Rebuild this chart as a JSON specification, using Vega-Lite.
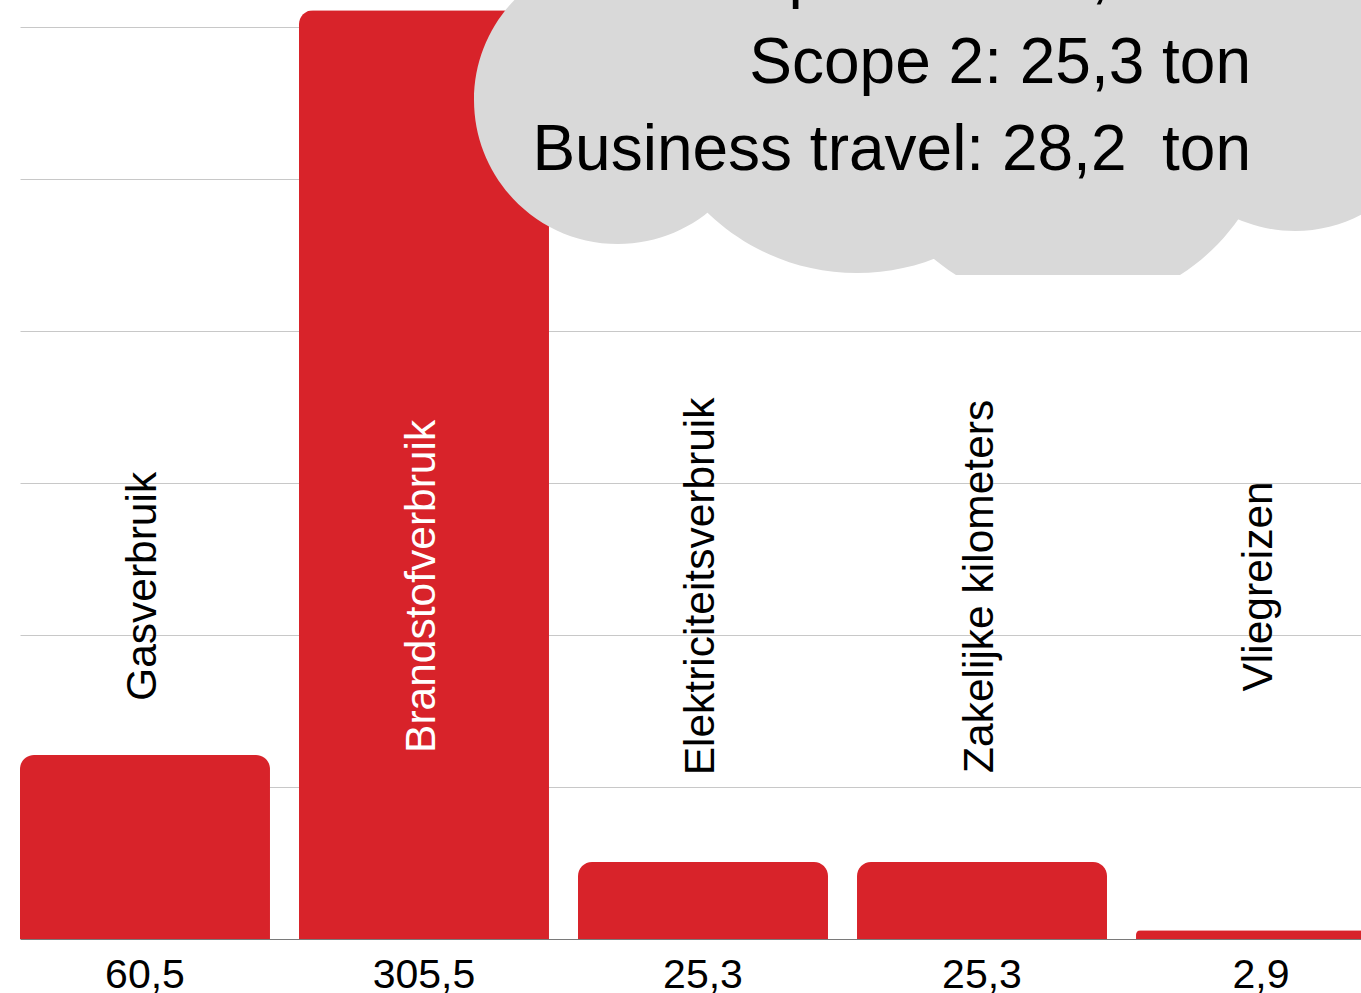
{
  "$schema": "https://vega.github.io/schema/vega-lite/v6.json",
  "width": 1341,
  "height": 939,
  "autosize": {"type": "none"},
  "padding": {"left": 20, "top": 0, "right": 0, "bottom": 54},
  "background": "white",
  "config": {
    "view": {"stroke": null},
    "font": "Liberation Sans",
    "locale": {"number": {"decimal": ",", "thousands": ".", "grouping": [3], "currency": ["€ ", ""]}}
  },
  "data": {
    "values": [
      {"category": "Gasverbruik", "value": 60.5},
      {"category": "Brandstofverbruik", "value": 305.5},
      {"category": "Elektriciteitsverbruik", "value": 25.3},
      {"category": "Zakelijke kilometers", "value": 25.3},
      {"category": "Vliegreizen", "value": 2.9}
    ]
  },
  "encoding": {
    "x": {
      "field": "category",
      "type": "nominal",
      "sort": null,
      "scale": {"range": [0, 1366], "paddingInner": 0.104, "paddingOuter": 0},
      "axis": {"title": null, "labels": false, "ticks": false, "domain": true, "domainColor": "#7a7a7a", "domainWidth": 1, "grid": false}
    }
  },
  "layer": [
    {
      "mark": {"type": "bar", "color": "#d8232a", "cornerRadiusTopLeft": 14, "cornerRadiusTopRight": 14},
      "encoding": {
        "y": {
          "field": "value",
          "type": "quantitative",
          "scale": {"domain": [0, 308.9], "nice": false, "zero": true},
          "axis": {"title": null, "labels": false, "ticks": false, "domain": false, "values": [50, 100, 150, 200, 250, 300], "grid": true, "gridColor": "#c8c8c8", "gridWidth": 1}
        }
      }
    },
    {
      "mark": {"type": "text", "angle": 270, "align": "center", "baseline": "middle", "dy": -2, "fontSize": 42.5, "font": "Liberation Sans"},
      "encoding": {
        "y": {"datum": 116},
        "text": {"field": "category", "type": "nominal"},
        "color": {"condition": {"test": "datum.value > 200", "value": "#ffffff"}, "value": "#000000"}
      }
    },
    {
      "mark": {"type": "text", "align": "center", "baseline": "alphabetic", "dy": 49, "fontSize": 41, "font": "Liberation Sans", "color": "#000000"},
      "encoding": {
        "y": {"datum": 0},
        "text": {"field": "value", "type": "quantitative", "format": ".1f"}
      }
    },
    {
      "data": {"values": [{"annotation": "cloud"}]},
      "mark": {
        "type": "point",
        "shape": "M -229 73 A 144 144 0 1 1 59 73 A 144 144 0 1 1 -229 73 Z M -61 31 A 215 215 0 1 1 369 31 A 215 215 0 1 1 -61 31 Z M 253 248 A 208 208 0 1 1 477 248 Z M 450 62 A 142 142 0 1 1 734 62 A 142 142 0 1 1 450 62 Z",
        "filled": true,
        "size": 4,
        "opacity": 1,
        "color": "#d9d9d9"
      },
      "encoding": {
        "x": {"datum": "Elektriciteitsverbruik"},
        "y": {"datum": 300}
      }
    },
    {
      "data": {"values": [{"annotation": "cloud text"}]},
      "mark": {
        "type": "text",
        "text": ["Scope 1:\u00a0\u00a0 366,0 ton", "Scope 2: 25,3 ton", "Business travel: 28,2\u00a0 ton"],
        "align": "right",
        "baseline": "alphabetic",
        "fontSize": 64,
        "lineHeight": 87,
        "dx": -10,
        "dy": -31,
        "font": "Liberation Sans",
        "color": "#000000"
      },
      "encoding": {
        "x": {"datum": "Vliegreizen"},
        "y": {"datum": 300}
      }
    }
  ]
}
